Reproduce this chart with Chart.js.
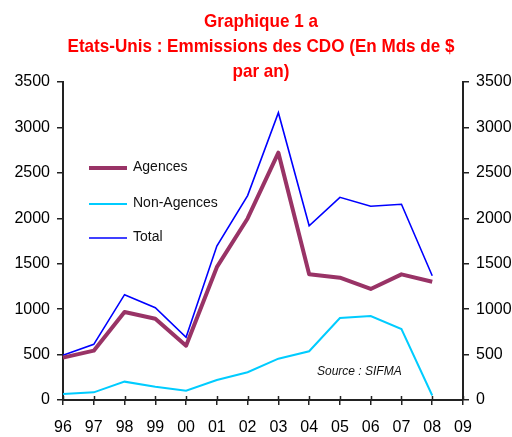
<!DOCTYPE html>
<html><head><meta charset="utf-8">
<script src="https://cdn.jsdelivr.net/npm/chart.js@4/dist/chart.umd.min.js"></script>
<style>html,body{margin:0;padding:0;background:#fff;}#wrap{width:512px;height:437px;position:relative;}</style>
</head><body><div id="wrap"><canvas id="c" width="512" height="437"></canvas></div>
<script>
const years = ['96','97','98','99','00','01','02','03','04','05','06','07','08','09'];
const agences = [466,543,968,895,598,1462,1998,2722,1383,1346,1222,1383,1302];
const nonAgences = [66,84,202,147,103,220,305,455,536,902,924,781,50];
const total = [492,613,1159,1016,690,1695,2250,3162,1918,2231,2132,2154,1368];
const yTicks = [0,500,1000,1500,2000,2500,3000,3500];
const seriesNames = ['Agences','Non-Agences','Total'];
const titleLines = ['Graphique 1 a','Etats-Unis : Emmissions des CDO (En Mds de $','par an)'];
const sourceText = 'Source : SIFMA';

const FONT = "'Liberation Sans', Arial, sans-serif";
const axisColor = '#222';

const overlay = {
  id: 'overlay',
  afterDraw(chart) {
    const ctx = chart.ctx;
    ctx.save();
    // title
    ctx.fillStyle = '#FF0000';
    ctx.font = "bold 19px " + FONT;
    ctx.textBaseline = 'alphabetic';
    ctx.textAlign = 'center';
    const target = 387;
    const sc = target / ctx.measureText(titleLines[1]).width;
    const baselines = [27, 52, 77];
    titleLines.forEach((t, i) => {
      ctx.save();
      ctx.translate(261, baselines[i]);
      ctx.scale(sc, 1);
      ctx.fillText(t, 0, 0);
      ctx.restore();
    });
    // x-axis cross ticks (upper part)
    const xs = chart.scales.x;
    const yBottom = chart.chartArea.bottom;
    ctx.strokeStyle = axisColor;
    ctx.lineWidth = 1.5;
    for (let i = 0; i < years.length; i++) {
      const px = Math.round(xs.getPixelForValue(i)) + 0.5;
      ctx.beginPath();
      ctx.moveTo(px, yBottom - 4);
      ctx.lineTo(px, yBottom);
      ctx.stroke();
    }
    // legend
    const ly = [168, 204, 238];
    chart.data.datasets.forEach((ds, i) => {
      ctx.strokeStyle = ds.borderColor;
      ctx.lineWidth = ds.borderWidth;
      ctx.beginPath();
      ctx.moveTo(89, ly[i]);
      ctx.lineTo(127, ly[i]);
      ctx.stroke();
      ctx.fillStyle = '#111';
      ctx.font = "14px " + FONT;
      ctx.textAlign = 'left';
      ctx.textBaseline = 'middle';
      ctx.fillText(ds.label, 133, ly[i] - 1);
    });
    // source
    ctx.font = "italic 12px " + FONT;
    ctx.fillStyle = '#111';
    ctx.textAlign = 'left';
    ctx.textBaseline = 'middle';
    ctx.fillText(sourceText, 317, 372);
    ctx.restore();
  }
};

const yAxisCommon = {
  min: 0, max: 3500,
  afterBuildTicks(s) { s.ticks = yTicks.map(v => ({value: v})); },
  grid: {display: true, drawOnChartArea: false, drawTicks: true, tickLength: 6, color: axisColor, lineWidth: 1.5},
  border: {display: true, color: axisColor, width: 2},
  ticks: {font: {size: 16, family: FONT}, color: '#000', padding: 7, callback: v => String(v)}
};

new Chart(document.getElementById('c'), {
  type: 'line',
  data: {
    labels: years,
    datasets: [
      {label: seriesNames[0], data: agences, borderColor: '#993366', backgroundColor: '#993366', borderWidth: 4, pointRadius: 0, tension: 0, yAxisID: 'y', borderJoinStyle: 'round'},
      {label: seriesNames[1], data: nonAgences, borderColor: '#00CCFF', backgroundColor: '#00CCFF', borderWidth: 2, pointRadius: 0, tension: 0, yAxisID: 'y'},
      {label: seriesNames[2], data: total, borderColor: '#0000FF', backgroundColor: '#0000FF', borderWidth: 1.6, pointRadius: 0, tension: 0, yAxisID: 'y'}
    ]
  },
  options: {
    responsive: false,
    animation: false,
    devicePixelRatio: 1,
    layout: {padding: {top: 82, left: 0, right: 0, bottom: 0}},
    plugins: {legend: {display: false}, title: {display: false}, tooltip: {enabled: false}},
    scales: {
      x: {
        type: 'category', offset: false,
        grid: {display: true, drawOnChartArea: false, drawTicks: true, tickLength: 5, color: axisColor, lineWidth: 1.5},
        border: {display: true, color: axisColor, width: 2},
        ticks: {font: {size: 16, family: FONT}, color: '#000', padding: 13, maxRotation: 0, autoSkip: false},
        afterFit(s) { s.height = 37; }
      },
      y: Object.assign({}, yAxisCommon, {position: 'left', afterFit(s) { s.width = 63; }}),
      y2: Object.assign({}, yAxisCommon, {position: 'right', afterFit(s) { s.width = 49; }})
    }
  },
  plugins: [overlay]
});
</script>
</body></html>
